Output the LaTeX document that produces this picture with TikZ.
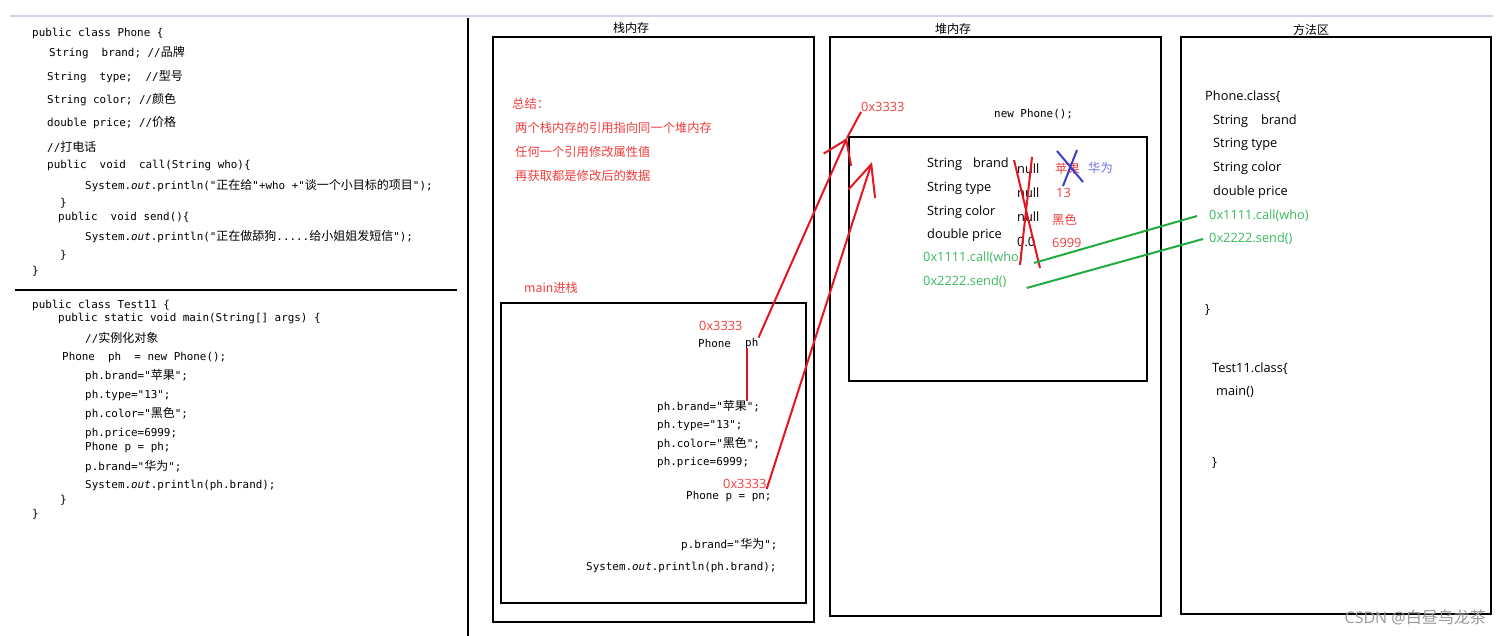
\documentclass[tikz,border=0pt]{standalone}
\usepackage{fontspec}
\setmainfont{Open Sans}
\setmonofont{DejaVu Sans Mono}
\newfontfamily\cjk{Noto Sans CJK SC}
\usepackage{xcolor}
\usepackage{tikz}
\usetikzlibrary{arrows.meta}
\definecolor{notered}{RGB}{242,62,62}
\definecolor{linered}{RGB}{228,22,32}
\definecolor{notegreen}{RGB}{60,185,95}
\definecolor{linkgreen}{RGB}{35,170,65}
\definecolor{xblue}{RGB}{60,60,205}
\definecolor{hwblue}{RGB}{110,110,230}
\definecolor{topgray}{RGB}{205,213,228}
\newcommand\zh[1]{{\fontsize{12}{12}\cjk #1}}

\begin{document}
\begin{tikzpicture}[
    x=1pt, y=-1pt,
    code/.style={anchor=west, inner sep=0pt, font=\fontsize{10.9}{12}\ttfamily, text=black},
    txt/.style={anchor=west, inner sep=0pt, font=\fontsize{12.8}{14}\selectfont, text=black},
    note/.style={anchor=west, inner sep=0pt, font=\fontsize{12.3}{14}\cjk, text=notered},
    addr/.style={txt, text=notered},
    meth/.style={txt, text=notegreen},
    areatitle/.style={inner sep=0pt, font=\fontsize{12}{14}\cjk},
    membox/.style={draw, line width=2.6pt},
    arr/.style={draw=linered, line width=2pt, -{Straight Barb[length=22pt,width=30pt]}},
    link/.style={draw=linkgreen, line width=2pt}
  ]
  \fill[white] (0,0) rectangle (1501,636);
  \useasboundingbox (0,0) rectangle (1501,636);
  \draw[topgray, line width=1.5pt] (10,16) -- (1493,16);
  \draw[line width=2pt] (468,18) -- (468,636);
  \draw[line width=2.5pt] (15,290) -- (457,290);

  % class Phone
  \node[code] (pcls)   at (32,33)  {public class Phone \{};
  \node[code] (pbrand) at (49,53)  {String~~brand;~//\zh{品牌}};
  \node[code] (ptype)  at (47,77)  {String~~type;~~//\zh{型号}};
  \node[code] (pcolor) at (47,100) {String~color;~//\zh{颜色}};
  \node[code] (pprice) at (47,123) {double~price;~//\zh{价格}};
  \node[code] (pcom)   at (47,147) {//\zh{打电话}};
  \node[code] (pcall)  at (47,166) {public~~void~~call(String~who)\{};
  \node[code] (pcallb) at (85,186) {System.\textit{out}.println("\zh{正在给}"+who~+"\zh{谈一个小目标的项目}");};
  \node[code] (pcalle) at (60,203) {\}};
  \node[code] (psend)  at (58,217) {public~~void~send()\{};
  \node[code] (psendb) at (85,237) {System.\textit{out}.println("\zh{正在做舔狗}.....\zh{给小姐姐发短信}");};
  \node[code] (psende) at (60,255) {\}};
  \node[code] (pend)   at (32,271) {\}};

  % class Test11
  \node[code] (tcls)   at (32,305) {public class Test11 \{};
  \node[code] (tmain)  at (58,319) {public static void main(String[] args) \{};
  \node[code] (tcom)   at (85,338) {//\zh{实例化对象}};
  \node[code] (tnew)   at (62,357) {Phone~~ph~~=~new~Phone();};
  \node[code] (tbrand) at (85,376) {ph.brand="\zh{苹果}";};
  \node[code] (ttype)  at (85,395) {ph.type="13";};
  \node[code] (tcolor) at (85,414) {ph.color="\zh{黑色}";};
  \node[code] (tprice) at (85,433) {ph.price=6999;};
  \node[code] (tp)     at (85,447) {Phone~p~=~ph;};
  \node[code] (tpb)    at (85,467) {p.brand="\zh{华为}";};
  \node[code] (tprint) at (85,485) {System.\textit{out}.println(ph.brand);};
  \node[code] (tmaine) at (60,500) {\}};
  \node[code] (tend)   at (32,514) {\}};

  % stack
  \draw[membox] (493,37) rectangle (814,622);
  \node[areatitle] (stk) at (631,28) {栈内存};
  \node[note] (sum)  at (512,104) {总结：};
  \node[note] (sum1) at (515,128) {两个栈内存的引用指向同一个堆内存};
  \node[note] (sum2) at (515,152) {任何一个引用修改属性值};
  \node[note] (sum3) at (515,176) {再获取都是修改后的数据};
  \node[note] (mainin) at (524,288) {main进栈};
  \draw[membox] (501,303) rectangle (806,603);
  \node[addr] (sadr)   at (699,326) {0x3333};
  \node[code] (phtype) at (698,343) {Phone};
  \node[code] (phvar)  at (745,343) {ph};
  \node[code] (sbrand) at (657,407) {ph.brand="\zh{苹果}";};
  \node[code] (stype)  at (657,425) {ph.type="13";};
  \node[code] (scolor) at (657,444) {ph.color="\zh{黑色}";};
  \node[code] (sprice) at (657,462) {ph.price=6999;};
  \node[addr] (padr)   at (723,484) {0x3333};
  \node[code] (sp)     at (686,496) {Phone~p~=~pn;};
  \node[code] (spb)    at (681,545) {p.brand="\zh{华为}";};
  \node[code] (sprint) at (586,567) {System.\textit{out}.println(ph.brand);};

  % heap
  \draw[membox] (830,37) rectangle (1161,616);
  \node[areatitle] (heap) at (953,29) {堆内存};
  \node[addr] (hadr) at (861,107) {0x3333};
  \node[code] (hnew) at (994,114) {new~Phone();};
  \draw[membox] (849,137) rectangle (1147,381);
  \node[txt] (hbrand) at (927,164) {String\hspace{11pt}brand};
  \node[txt] (htype)  at (927,188) {String type};
  \node[txt] (hcolor) at (927,212) {String color};
  \node[txt] (hprice) at (927,235) {double price};
  \node[meth] (hcall) at (923,258) {0x1111.call(who)};
  \node[meth] (hsend) at (923,282) {0x2222.send()};
  \node[txt] (n1) at (1017,169) {null};
  \node[txt] (n2) at (1017,193) {null};
  \node[txt] (n3) at (1017,217) {null};
  \node[txt] (n4) at (1017,242) {0.0};
  \node[note] (v1) at (1055,169) {苹果};
  \node[addr] (v2) at (1056,193) {13};
  \node[note] (v3) at (1052,220) {黑色};
  \node[addr] (v4) at (1052,243) {6999};
  \node[note, text=hwblue] (v1b) at (1088,168) {华为};
  \draw[xblue, line width=2pt] (1057,151) -- (1083,182) (1077,150) -- (1063,186);
  \draw[linered, line width=2pt] (1014,160) -- (1040,268) (1032,157) -- (1020,265);

  % method area
  \draw[membox] (1181,37) rectangle (1491,614);
  \node[areatitle] (marea) at (1311,30) {方法区};
  \node[txt] (mcls)   at (1205,97)  {Phone.class\{};
  \node[txt] (mbrand) at (1213,121) {String\hspace{13pt}brand};
  \node[txt] (mtype)  at (1213,144) {String type};
  \node[txt] (mcolor) at (1213,168) {String color};
  \node[txt] (mprice) at (1213,192) {double price};
  \node[meth] (mcall) at (1209,216) {0x1111.call(who)};
  \node[meth] (msend) at (1209,239) {0x2222.send()};
  \node[txt] (mend)   at (1205,310) {\}};
  \node[txt] (mtcls)  at (1212,369) {Test11.class\{};
  \node[txt] (mmain)  at (1216,392) {main()};
  \node[txt] (mtend)  at (1212,463) {\}};

  % references
  \coordinate (t1) at (847,138);
  \coordinate (t2) at (872,162);
  \draw[arr] (phvar.north east) -- (t1);
  \draw[linered, line width=2pt] (t1) -- (hadr.south west);
  \draw[arr, -{Straight Barb[length=31pt,width=28pt]}] (padr.south east) -- (t2);
  \draw[linered, line width=2pt] ([xshift=-5pt]phvar.south) -- ([xshift=-5pt]phvar.south |- sbrand.north);
  \draw[link] ([shift={(11,5)}]hcall.east) -- ([shift={(-12,0)}]mcall.west);
  \draw[link] ([shift={(20,6)}]hsend.east) -- ([shift={(-6,0)}]msend.west);

  \node[anchor=east, inner sep=0pt, text=black!40, font=\fontsize{16}{18}\selectfont] (wm) at (1486,617) {CSDN @{\cjk 白昼乌龙茶}};
\end{tikzpicture}
\end{document}
